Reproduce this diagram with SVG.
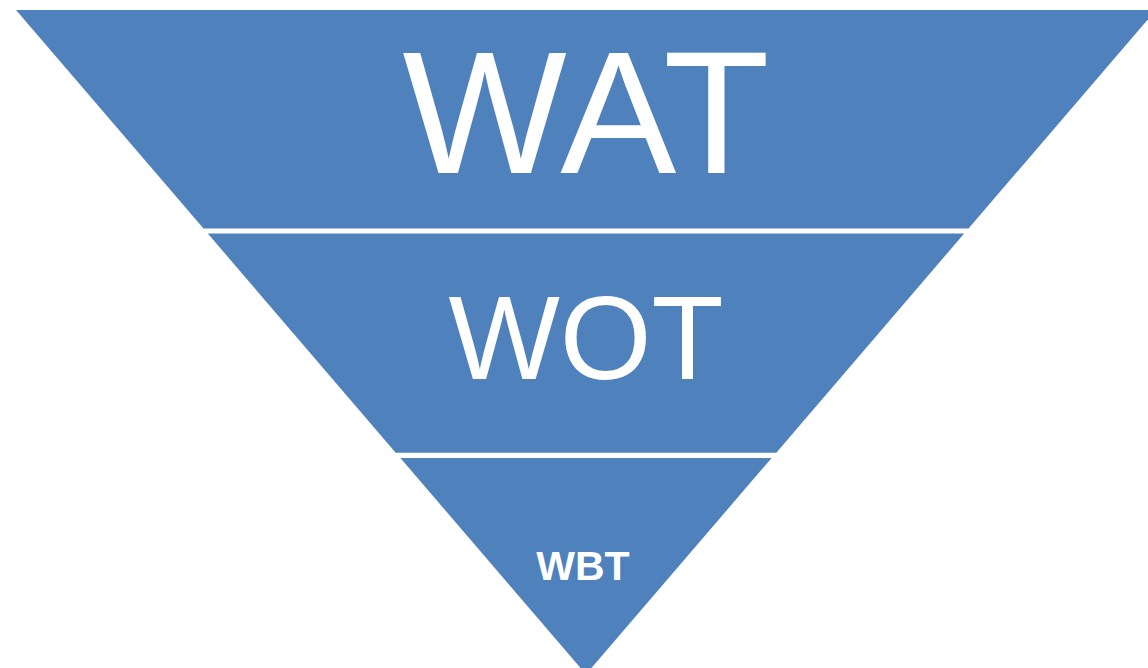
<svg xmlns="http://www.w3.org/2000/svg" width="1148" height="668" viewBox="0 0 1148 668">
<style>
.band{fill:#4f81bd}
.lbl{fill:#ffffff;font-family:"Liberation Sans",Arial,sans-serif;text-anchor:middle}
</style>
<rect width="1148" height="668" fill="#ffffff"/>
<g id="band-wat">
<polygon class="band" points="16,10 1156,10 968.5,228.5 203.5,228.5"/>
<text class="lbl" x="586" y="172.7" font-size="174">WAT</text>
</g>
<g id="band-wot">
<polygon class="band" points="207.8,233.5 964.2,233.5 776.3,452.7 395.7,452.7"/>
<text class="lbl" x="586" y="379.3" font-size="118">WOT</text>
</g>
<g id="band-wbt">
<polygon class="band" points="400.4,458 771.6,458 586,674.3"/>
<text class="lbl" x="583" y="580" font-size="41" font-weight="bold">WBT</text>
</g>
<g id="connectors"></g>
</svg>
